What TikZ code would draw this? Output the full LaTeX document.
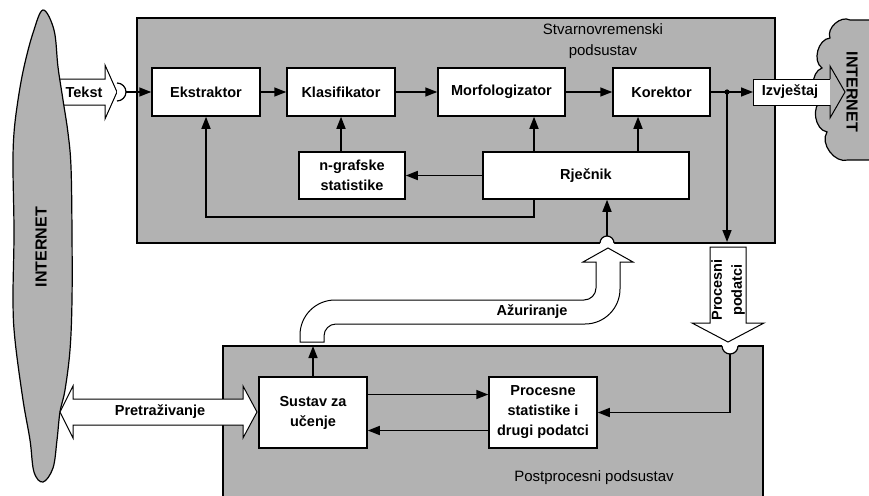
\documentclass[tikz,border=0pt]{standalone}
\usepackage{fontspec}
\setmainfont{Liberation Sans}
\usetikzlibrary{arrows.meta,calc}
\begin{document}
\begin{tikzpicture}[x=1pt,y=-1pt,
  blk/.style={draw,line width=1.5pt,fill=white,font=\bfseries\fontsize{14.5}{20}\selectfont,align=center,inner sep=0pt},
  conn/.style={line width=1.6pt},
  arr/.style={conn,-{Triangle[length=12pt,width=9pt]}},
  fat/.style={draw,line width=1pt,fill=white},
  sub/.style={draw,line width=1.2pt,fill=gray!60},
  lbl/.style={font=\bfseries\fontsize{14.5}{20}\selectfont,align=center,inner sep=0pt},
  inet/.style={font=\bfseries\fontsize{16}{18}\selectfont,inner sep=0pt},
  cmt/.style={font=\fontsize{15}{21}\selectfont,align=center,inner sep=0pt}]
\useasboundingbox (0,0) rectangle (869,495);
% subsystems
\path[sub] (137,18) rectangle (775,243);
\path[sub] (223,346) rectangle (763,498);
\node[cmt] (rt) at (603,41) {Stvarnovremenski\\podsustav};
\node[cmt] (pp) at (594,478) {Postprocesni podsustav};
% Tekst arrow (under cloud)
\path[fat] (40,79) -- (105,79) -- (105,65) -- (117,92) -- (105,119) -- (105,105) -- (40,105) -- cycle;
% left cloud
\draw[line width=1.2pt,fill=gray!60] plot[smooth cycle,tension=0.6] coordinates {
 (43,10) (54,30) (58,67) (63,100) (68,133) (71,167) (72,233) (72,300) (70,350) (65,390) (60,412)
 (57,440) (53,468) (43,482) (34,472) (30,440) (23,400) (15,340) (13,300) (14,233) (13,167) (14,133) (18,100) (24,67) (33,33)};
\node[inet,rotate=90] (inl) at (41,247) {INTERNET};
\node[lbl] (tk) at (84,92) {Tekst};
% Tekst socket
\coordinate (sk) at (126,92);
\draw[line width=1.2pt,fill=white] (117,83) arc[start angle=90,end angle=-90,radius=9pt];
% blocks
\node[blk,minimum width=108pt,minimum height=48pt] (ext) at (206,92) {Ekstraktor};
\node[blk,minimum width=108pt,minimum height=48pt] (kla) at (341,92) {Klasifikator};
\node[blk,minimum width=127pt,minimum height=48pt] (mor) at (501.5,92) {Morfologizator};
\node[blk,minimum width=97pt,minimum height=48pt] (kor) at (661.5,92) {Korektor};
\node[blk,minimum width=106pt,minimum height=47pt] (ng) at (352,175.5) {n-grafske\\statistike};
\node[blk,minimum width=206pt,minimum height=47pt] (rj) at (586,175.5) {Rječnik};
\node[blk,minimum width=108pt,minimum height=71pt] (sus) at (313,412.5) {Sustav za\\učenje};
\node[blk,minimum width=108pt,minimum height=71pt] (proc) at (543,412.5) {Procesne\\statistike i\\drugi podatci};
% main chain
\draw[arr] (sk) -- (ext.west);
\draw[arr] (ext) -- (kla);
\draw[arr] (kla) -- (mor);
\draw[arr] (mor) -- (kor);
\coordinate (dot) at (727,92);
\coordinate (izv) at (753,92);
\coordinate (pdt) at (727,242);
\draw[conn] (kor.east) -- (dot);
\draw[arr] (dot) -- (izv);
\draw[arr] (dot) -- (pdt);
\fill (dot) circle[radius=2.6pt];
% dictionary links
\draw[arr] (kla.south |- ng.north) -- (kla.south);
\draw[arr] ([xshift=-52pt]rj.north) -- ([xshift=-52pt]rj.north |- mor.south);
\draw[arr] ([xshift=52pt]rj.north) -- ([xshift=52pt]rj.north |- kor.south);
\draw[arr] (rj.west) -- (ng.east);
\draw[arr] ([xshift=-52pt]rj.south) -- ++(0,17) -| (ext.south);
% update socket on top box
\fill[white] (600,245) -- (600,243) arc[start angle=180,end angle=0,radius=7pt] -- (614,245) -- cycle;
\draw[line width=1.2pt] (600,243) arc[start angle=180,end angle=0,radius=7pt];
\coordinate (us) at (607,236);
\draw[arr] (us) -- (us |- rj.south);
% Azuriranje arrow
\path[fat] (300,342) -- (300,335) arc[start angle=180,end angle=90,radius=35pt] -- (584,300)
  arc[start angle=-90,end angle=0,radius=12pt] -- (596,262) -- (583,262) -- (608,248) -- (633,262) -- (620,262)
  -- (620,289) arc[start angle=0,end angle=-90,radius=35pt] -- (336,324)
  arc[start angle=90,end angle=180,radius=12pt] -- (324,342) -- cycle;
\node[lbl] (az) at (532,312) {Ažuriranje};
\coordinate (ab) at (sus.north |- 0,346);
\draw[arr] (sus.north) -- (ab);
% learning links
\draw[arr] ([yshift=18pt]sus.east) -- ([yshift=18pt]proc.west);
\draw[arr] ([yshift=-18pt]proc.west) -- ([yshift=-18pt]sus.east);
% Procesni podatci arrow
\path[fat] (710,247) -- (746,247) -- (746,323) -- (764,323) -- (728,342) -- (692,323) -- (710,323) -- cycle;
\node[lbl,rotate=90] (ppd) at (728,290) {Procesni\\podatci};
\fill[white] (722,344) -- (722,346) arc[start angle=180,end angle=360,radius=8pt] -- (738,344) -- cycle;
\draw[line width=1.2pt] (722,346) arc[start angle=180,end angle=360,radius=8pt];
\coordinate (ps) at (730,354);
\draw[arr] (ps) |- (proc.east);
% Pretrazivanje double arrow
\path[fat] (60,412) -- (73,386) -- (73,399) -- (243,399) -- (243,386) -- (257,412) -- (243,438) -- (243,425) -- (73,425) -- (73,438) -- cycle;
\node[lbl] (pr) at (160,412) {Pretraživanje};
% right cloud, then Izvjestaj arrow over it
\draw[line width=1.2pt,fill=gray!60] (850,20) to[bend right=70] (830,38) to[bend right=70] (822,68) to[bend right=70] (822,100)
  to[bend right=70] (827,132) to[bend right=70] (848,160) -- (885,160) -- (885,20) -- cycle;
\fill[white] (753,79) rectangle (830,105);
\draw[line width=1pt] (830,79) -- (753,79) -- (753,105) -- (830,105);
\draw[line width=1pt] (830,79) -- (830,66) -- (845,92) -- (830,118) -- (830,105);
\node[lbl] (iz) at (790,92) {Izvještaj};
\node[inet,rotate=-90] (inr) at (852,92) {INTERNET};
\end{tikzpicture}
\end{document}
